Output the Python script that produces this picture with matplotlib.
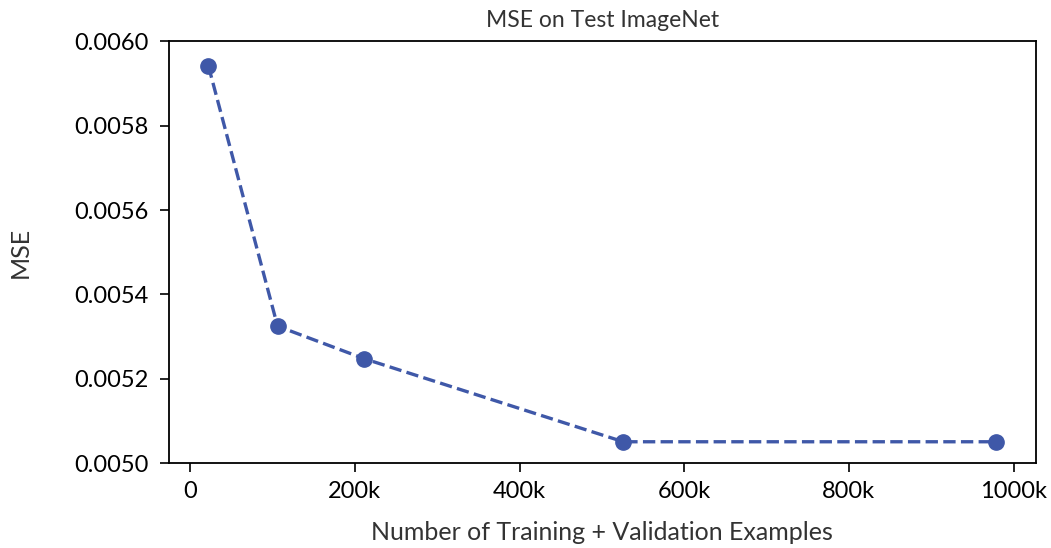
import numpy as np
import matplotlib
matplotlib.use("Agg")
import matplotlib.pyplot as plt
from matplotlib.ticker import FuncFormatter

plt.rcParams['font.family'] = ['Lato', 'DejaVu Sans']

# data
n_examples = [22000, 106000, 211000, 526000, 979000]
mse_values = [0.005942, 0.005325, 0.005248, 0.005051, 0.005051]

line_color = '#3f58a8'


def k_fmt(v, pos):
    if v == 0:
        return "0"
    return f"{int(round(v / 1000))}k"


fig = plt.figure(figsize=(10.51, 5.48), dpi=100)
ax = fig.add_axes([0.1608, 0.1546, 0.8246, 0.77])

ax.plot(n_examples, mse_values, linestyle='--', marker='o', color=line_color,
        linewidth=2.4, markersize=11)

ax.set_ylim(0.0050, 0.0060)
ax.set_yticks([0.0050, 0.0052, 0.0054, 0.0056, 0.0058, 0.0060])
ax.yaxis.set_major_formatter(FuncFormatter(lambda v, p: f"{v:.4f}"))
ax.set_xticks([0, 200000, 400000, 600000, 800000, 1000000])
ax.xaxis.set_major_formatter(FuncFormatter(k_fmt))

ax.tick_params(axis='both', labelsize=17, length=6.5, width=1.2, pad=6)
ax.tick_params(axis='y', pad=8)
for s in ax.spines.values():
    s.set_linewidth(1.3)

ax.set_title("MSE on Test ImageNet", fontsize=16.5, color='#333333', pad=10)
ax.set_xlabel("Number of Training + Validation Examples", fontsize=18, color='#333333', labelpad=14)
ax.set_ylabel("MSE", fontsize=18, color='#333333', labelpad=31)

fig.savefig("out.png", dpi=100)
